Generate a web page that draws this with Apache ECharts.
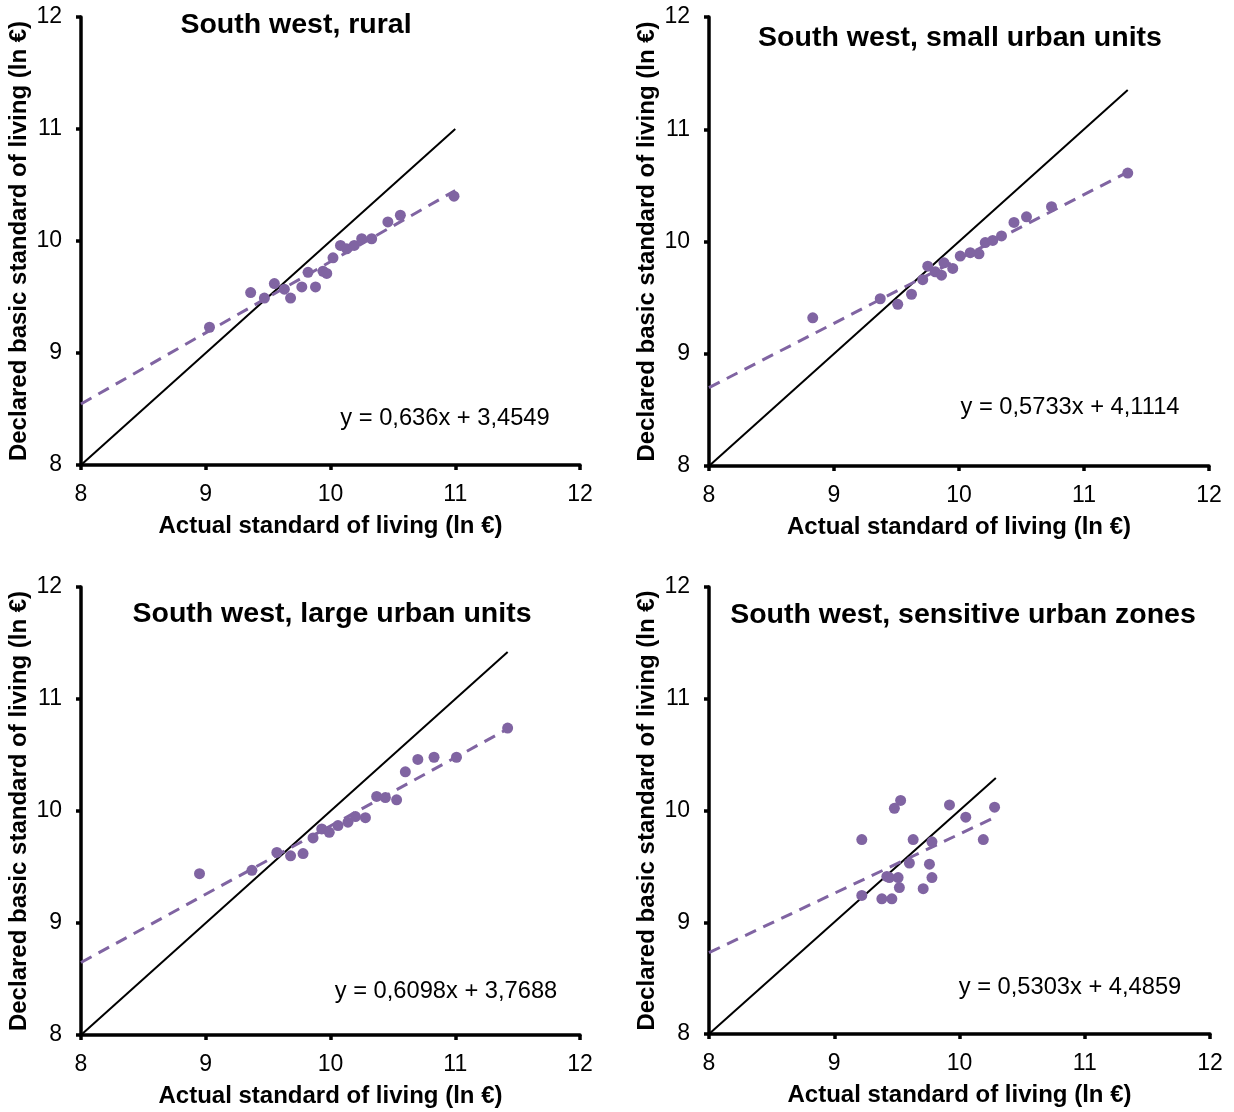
<!DOCTYPE html>
<html>
<head>
<meta charset="utf-8">
<script src="https://cdn.jsdelivr.net/npm/echarts@6/dist/echarts.min.js"></script>
<style>
html,body{margin:0;padding:0;background:#fff;}
#c{width:1234px;height:1112px;}
</style>
</head>
<body>
<div id="c"></div>
<script>
// ---- Data ----
const panelTitles = [
  "South west, rural",
  "South west, small urban units",
  "South west, large urban units",
  "South west, sensitive urban zones"
];
const equations = [
  "y = 0,636x + 3,4549",
  "y = 0,5733x + 4,1114",
  "y = 0,6098x + 3,7688",
  "y = 0,5303x + 4,4859"
];
const axisTicks = [8, 9, 10, 11, 12];
const xAxisTitle = "Actual standard of living (ln €)";
const yAxisTitle = "Declared basic standard of living (ln €)";

const ruralPoints = [
  [9.03, 9.23], [9.36, 9.54], [9.47, 9.49], [9.55, 9.62], [9.63, 9.57],
  [9.68, 9.49], [9.77, 9.59], [9.82, 9.72], [9.88, 9.59], [9.94, 9.73],
  [9.97, 9.71], [10.02, 9.85], [10.08, 9.96], [10.13, 9.93], [10.19, 9.96],
  [10.25, 10.02], [10.33, 10.02], [10.46, 10.17], [10.56, 10.23], [10.99, 10.40]
];
const smallUrbanPoints = [
  [8.83, 9.32], [9.37, 9.49], [9.51, 9.44], [9.62, 9.53], [9.71, 9.66],
  [9.75, 9.78], [9.81, 9.73], [9.86, 9.70], [9.88, 9.81], [9.95, 9.76],
  [10.01, 9.87], [10.09, 9.90], [10.16, 9.89], [10.21, 9.99], [10.27, 10.01],
  [10.34, 10.05], [10.44, 10.17], [10.54, 10.22], [10.74, 10.31], [11.35, 10.61]
];
const largeUrbanPoints = [
  [8.95, 9.44], [9.37, 9.47], [9.57, 9.63], [9.68, 9.60], [9.78, 9.62],
  [9.86, 9.76], [9.93, 9.84], [9.99, 9.81], [10.06, 9.87], [10.14, 9.90],
  [10.20, 9.95], [10.28, 9.94], [10.37, 10.13], [10.44, 10.12], [10.53, 10.10],
  [10.60, 10.35], [10.70, 10.46], [10.83, 10.48], [11.01, 10.48], [11.42, 10.74]
];
const sensitivePoints = [
  [9.53, 10.09], [9.48, 10.02], [9.92, 10.05], [10.28, 10.03], [10.05, 9.94],
  [9.22, 9.74], [9.63, 9.74], [10.19, 9.74], [9.78, 9.72], [9.60, 9.53],
  [9.76, 9.52], [9.42, 9.41], [9.44, 9.40], [9.51, 9.40], [9.78, 9.40],
  [9.52, 9.31], [9.71, 9.30], [9.22, 9.24], [9.38, 9.21], [9.46, 9.21]
];
const identityLines = [
  [[8, 8], [11.0, 11.0]],
  [[8, 8], [11.35, 11.35]],
  [[8, 8], [11.42, 11.42]],
  [[8, 8], [10.29, 10.29]]
];
const trendLines = [
  [[8, 8.545], [11.0, 10.451]],
  [[8, 8.698], [11.35, 10.618]],
  [[8, 8.647], [11.42, 10.733]],
  [[8, 8.728], [10.29, 9.943]]
];
const allPoints = [ruralPoints, smallUrbanPoints, largeUrbanPoints, sensitivePoints];

// ---- Layout / style ----
const FONT = "'Liberation Sans', Arial, sans-serif";
const PURPLE = "#8064A2";
const grids = [
  {left: 81, top: 17, width: 499, height: 448},
  {left: 709, top: 17, width: 500, height: 449},
  {left: 81, top: 587, width: 499, height: 448},
  {left: 709, top: 587, width: 501, height: 447}
];
const titlePos = [
  {x: 296, y: 25}, {x: 960, y: 38}, {x: 332, y: 614}, {x: 963, y: 615}
];
const eqPos = [
  {x: 445, y: 418}, {x: 1070, y: 407}, {x: 446, y: 991}, {x: 1070, y: 987}
];

function axisCommon(name, isX) {
  return {
    type: 'value',
    min: axisTicks[0],
    max: axisTicks[axisTicks.length - 1],
    interval: 1,
    name: name,
    nameLocation: 'middle',
    nameGap: isX ? 49 : 50,
    nameTextStyle: {fontFamily: FONT, fontWeight: 'bold', fontSize: 24, color: '#000'},
    axisLine: {show: true, onZero: false, lineStyle: {color: '#000', width: 3.5}},
    axisTick: {show: true, inside: false, length: 5, lineStyle: {color: '#000', width: 3.5}},
    axisLabel: {show: true, margin: isX ? 18 : 19, fontFamily: FONT, fontSize: 23, color: '#000'},
    splitLine: {show: false}
  };
}

const xAxes = [], yAxes = [], series = [], graphics = [];
for (let i = 0; i < 4; i++) {
  xAxes.push(Object.assign(axisCommon(xAxisTitle, true), {gridIndex: i}));
  yAxes.push(Object.assign(axisCommon(yAxisTitle, false), {gridIndex: i}));
  series.push({
    type: 'line', xAxisIndex: i, yAxisIndex: i, data: identityLines[i],
    symbol: 'none', lineStyle: {color: '#000', width: 2}, silent: true, z: 2, animation: false
  });
  series.push({
    type: 'line', xAxisIndex: i, yAxisIndex: i, data: trendLines[i],
    symbol: 'none', lineStyle: {color: PURPLE, width: 3, type: [12, 8]}, silent: true, z: 3, animation: false
  });
  series.push({
    type: 'scatter', xAxisIndex: i, yAxisIndex: i, data: allPoints[i],
    symbol: 'circle', symbolSize: 11, itemStyle: {color: PURPLE, opacity: 1}, z: 4, animation: false
  });
  graphics.push({
    type: 'text', x: titlePos[i].x, y: titlePos[i].y,
    style: {text: panelTitles[i], fill: '#000', font: "bold 28.5px " + FONT, textAlign: 'center', textVerticalAlign: 'middle'}
  });
  graphics.push({
    type: 'text', x: eqPos[i].x, y: eqPos[i].y,
    style: {text: equations[i], fill: '#000', font: "23.7px " + FONT, textAlign: 'center', textVerticalAlign: 'middle'}
  });
}

const chart = echarts.init(document.getElementById('c'), null, {renderer: 'canvas'});
chart.setOption({
  backgroundColor: '#fff',
  animation: false,
  grid: grids,
  xAxis: xAxes,
  yAxis: yAxes,
  series: series,
  graphic: graphics
});
</script>
</body>
</html>
